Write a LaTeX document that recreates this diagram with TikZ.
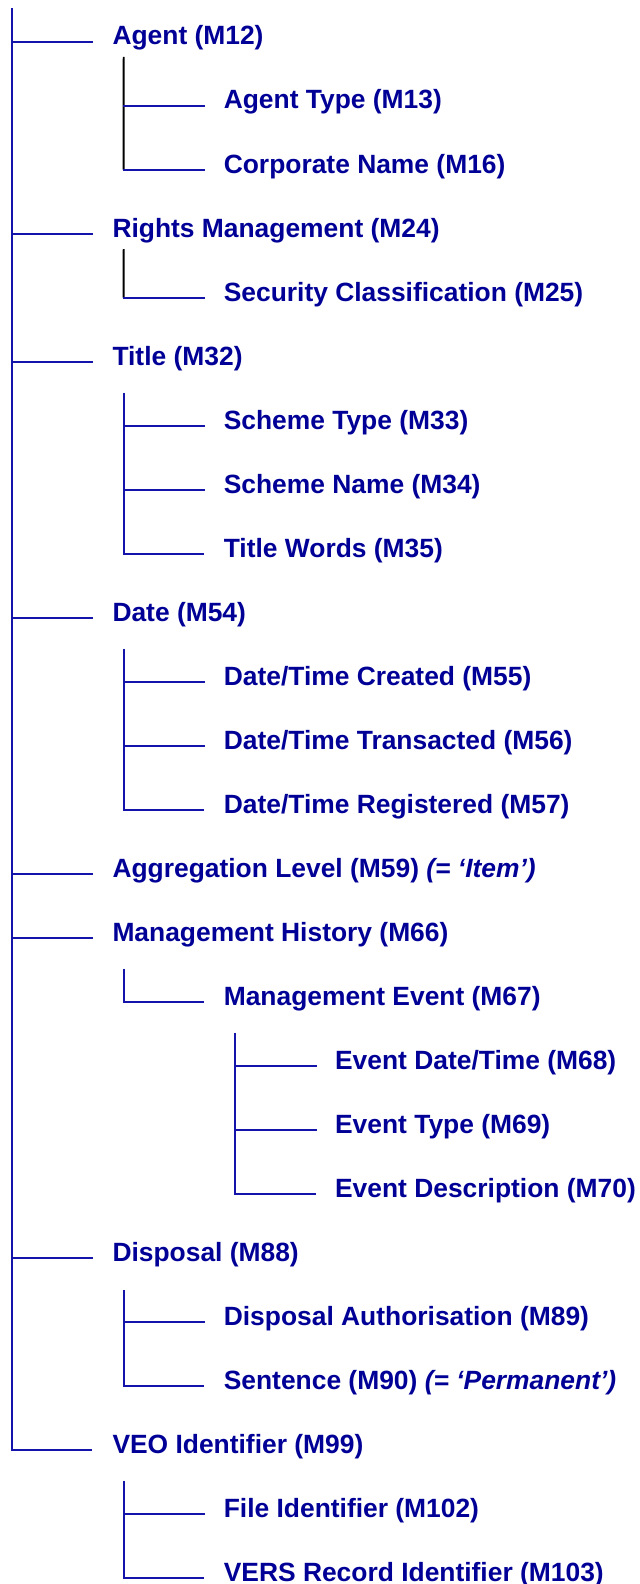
\documentclass[tikz,border=0pt]{standalone}
\usepackage{fontspec}
\setmainfont{Liberation Sans}
\definecolor{navytext}{RGB}{0,0,150}
\definecolor{navyline}{RGB}{20,20,170}

% One tree row: label node plus the two ends of its horizontal branch.
% #1 name, #2 depth (1..3), #3 row index, #4 label
\newcommand\treerow[4]{%
  \node[item] (#1) at ({112.3+111.3*(#2-1)}, {45+64*#3}) {#4};
  \coordinate (#1-end)   at ({92.4+111.6*(#2-1)}, {41.7+64*#3});
  \coordinate (#1-elbow) at ({12+111.6*(#2-1)},   {41.7+64*#3});
}

\begin{document}
\begin{tikzpicture}[x=1bp,y=-1bp,
  item/.style={anchor=base west, inner sep=0pt, text=navytext,
               font=\fontsize{26.4bp}{31bp}\selectfont\bfseries},
  branch/.style={draw=navyline, line width=1.9bp},
  stem/.style={draw=black, line width=1.9bp}]
\useasboundingbox (0,0) rectangle (640,1584);

\treerow{agent}{1}{0}{Agent (M12)}
\treerow{agtype}{2}{1}{Agent Type (M13)}
\treerow{corp}{2}{2}{Corporate Name (M16)}
\treerow{rights}{1}{3}{Rights Management (M24)}
\treerow{secur}{2}{4}{Security Classification (M25)}
\treerow{title}{1}{5}{Title (M32)}
\treerow{schtype}{2}{6}{Scheme Type (M33)}
\treerow{schname}{2}{7}{Scheme Name (M34)}
\treerow{words}{2}{8}{Title Words (M35)}
\treerow{date}{1}{9}{Date (M54)}
\treerow{created}{2}{10}{Date/Time Created (M55)}
\treerow{transact}{2}{11}{Date/Time Transacted (M56)}
\treerow{regist}{2}{12}{Date/Time Registered (M57)}
\treerow{aggr}{1}{13}{Aggregation Level (M59) {\itshape(= ‘Item’)}}
\treerow{mhist}{1}{14}{Management History (M66)}
\treerow{mevent}{2}{15}{Management Event (M67)}
\treerow{evdate}{3}{16}{Event Date/Time (M68)}
\treerow{evtype}{3}{17}{Event Type (M69)}
\treerow{evdesc}{3}{18}{Event Description (M70)}
\treerow{disp}{1}{19}{Disposal (M88)}
\treerow{dispauth}{2}{20}{Disposal Authorisation (M89)}
\treerow{sentence}{2}{21}{Sentence (M90) {\itshape(= ‘Permanent’)}}
\treerow{veo}{1}{22}{VEO Identifier (M99)}
\treerow{fileid}{2}{23}{File Identifier (M102)}
\treerow{versid}{2}{24}{VERS Record Identifier (M103)}

% tops of the vertical stems
\coordinate (main-top)   at (12,8.3);
\coordinate (agent-top)  at (123.7,57);
\coordinate (rights-top) at (123.7,249);
\coordinate (title-top)  at (123.7,392.7);
\coordinate (date-top)   at (123.7,648.7);
\coordinate (mhist-top)  at (123.7,968.7);
\coordinate (mevent-top) at (235.3,1032.7);
\coordinate (disp-top)   at (123.7,1289.7);
\coordinate (veo-top)    at (123.7,1480.7);

% black stems
\draw[stem] (agent-top) -- (corp-elbow);
\draw[stem] (rights-top) -- (secur-elbow);

% blue stems ending in the last child's branch
\draw[branch] (main-top) |- (veo-end);
\draw[branch] (title-top) |- (words-end);
\draw[branch] (date-top) |- (regist-end);
\draw[branch] (mhist-top) |- (mevent-end);
\draw[branch] (mevent-top) |- (evdesc-end);
\draw[branch] (disp-top) |- (sentence-end);
\draw[branch] (veo-top) |- (versid-end);

% remaining horizontal branches
\foreach \n in {agent,agtype,corp,rights,secur,title,schtype,schname,
                date,created,transact,aggr,mhist,evdate,evtype,disp,dispauth,fileid}
  \draw[branch, line cap=rect] (\n-elbow) -- (\n-end);
\end{tikzpicture}
\end{document}
